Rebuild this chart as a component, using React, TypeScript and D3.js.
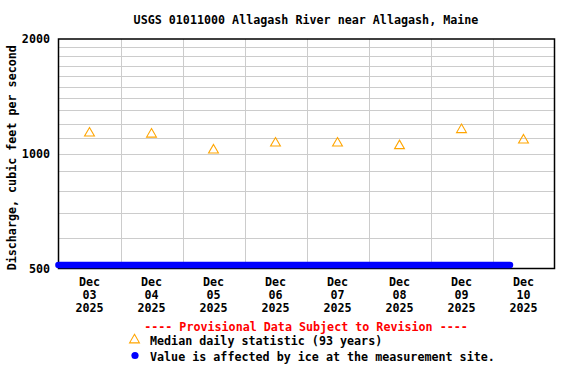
import React, { useEffect, useRef } from 'react';
import * as d3 from 'd3';

// values
const days = ['03', '04', '05', '06', '07', '08', '09', '10'];
const medianValues = [1132, 1125, 1022, 1066, 1066, 1049, 1156, 1086];
const yTickValues = [500, 1000, 2000];
const yGridValues = [600, 700, 800, 900, 1100, 1200, 1300, 1400, 1500, 1600, 1700, 1800, 1900];
const iceTimes = [Date.UTC(2025, 11, 3, 0, 0), Date.UTC(2025, 11, 10, 6, 45)];
const iceValues = [509, 509];

const title = 'USGS 01011000 Allagash River near Allagash, Maine';
const yTitle = 'Discharge, cubic feet per second';

const W = 576, H = 384;
const margin = { top: 39, right: 21.5, bottom: 115.5, left: 58.5 };
const FONT = '"DejaVu Sans Mono", monospace';
const FS = '11.7px';

const App = () => {
  const ref = useRef<SVGSVGElement | null>(null);

  useEffect(() => {
    const svg = d3.select(ref.current);
    svg.selectAll('*').remove();

    const x = d3.scaleUtc()
      .domain([Date.UTC(2025, 11, 3), Date.UTC(2025, 11, 11)])
      .range([margin.left, W - margin.right]);

    const y = d3.scaleLog()
      .domain([500, 2000])
      .range([H - margin.bottom, margin.top]);

    const noon = (i: number) => Date.UTC(2025, 11, 3 + i, 12);
    const midnights = d3.range(1, days.length).map(i => Date.UTC(2025, 11, 3 + i));

    // grid
    svg.append('g')
      .selectAll('line.h')
      .data(yGridValues.concat([1000]))
      .enter().append('line')
      .attr('x1', margin.left).attr('x2', W - margin.right)
      .attr('y1', d => Math.round(y(d)) + 0.5).attr('y2', d => Math.round(y(d)) + 0.5)
      .attr('stroke', '#cccccc');

    svg.append('g')
      .selectAll('line.v')
      .data(midnights)
      .enter().append('line')
      .attr('x1', d => Math.round(x(d)) + 0.5).attr('x2', d => Math.round(x(d)) + 0.5)
      .attr('y1', margin.top).attr('y2', H - margin.bottom)
      .attr('stroke', '#cccccc');

    // median triangles
    const tri = d3.symbol().type(d3.symbolTriangle).size(42);
    svg.append('g')
      .selectAll('path')
      .data(medianValues)
      .enter().append('path')
      .attr('d', tri)
      .attr('transform', (d, i) => `translate(${x(noon(i))},${y(d)})`)
      .attr('fill', 'none')
      .attr('stroke', '#ffa500')
      .attr('stroke-width', 1.1);

    // frame
    svg.append('rect')
      .attr('x', margin.left).attr('y', margin.top)
      .attr('width', W - margin.left - margin.right)
      .attr('height', H - margin.top - margin.bottom)
      .attr('fill', 'none')
      .attr('stroke', '#000')
      .attr('stroke-width', 1.5);

    // ice-affected values
    const line = d3.line<number>()
      .x((d, i) => x(iceTimes[i]))
      .y(d => y(d) - 0.5);
    svg.append('path')
      .datum(iceValues)
      .attr('d', line)
      .attr('stroke', '#0000ff')
      .attr('stroke-width', 6.6)
      .attr('stroke-linecap', 'round')
      .attr('fill', 'none');

    // y labels
    svg.append('g')
      .selectAll('text')
      .data(yTickValues)
      .enter().append('text')
      .attr('x', 50)
      .attr('y', d => y(d))
      .attr('dy', '0.36em')
      .attr('text-anchor', 'end')
      .style('font', `bold ${FS} ${FONT}`)
      .text(d => d);

    // x labels
    const xl = svg.append('g')
      .selectAll('text')
      .data(days)
      .enter().append('text')
      .attr('text-anchor', 'middle')
      .style('font', `bold ${FS} ${FONT}`);
    xl.append('tspan').attr('x', (d, i) => x(noon(i))).attr('y', 286).text('Dec');
    xl.append('tspan').attr('x', (d, i) => x(noon(i))).attr('y', 299).text(d => d);
    xl.append('tspan').attr('x', (d, i) => x(noon(i))).attr('y', 312).text('2025');

    // titles
    svg.append('text')
      .attr('x', 306).attr('y', 24)
      .attr('text-anchor', 'middle')
      .style('font', `bold ${FS} ${FONT}`)
      .text(title);

    svg.append('text')
      .attr('transform', `translate(15.5,${(margin.top + H - margin.bottom) / 2 + 4}) rotate(-90)`)
      .attr('text-anchor', 'middle')
      .style('font', `bold ${FS} ${FONT}`)
      .text(yTitle);

    // legend
    svg.append('text')
      .attr('x', 306).attr('y', 331)
      .attr('text-anchor', 'middle')
      .attr('fill', '#ff0000')
      .style('font', `bold ${FS} ${FONT}`)
      .text('---- Provisional Data Subject to Revision ----');

    svg.append('path')
      .attr('d', tri)
      .attr('transform', 'translate(134.5,340)')
      .attr('fill', 'none')
      .attr('stroke', '#ffa500')
      .attr('stroke-width', 1.1);
    svg.append('text')
      .attr('x', 150).attr('y', 345)
      .style('font', `bold ${FS} ${FONT}`)
      .text('Median daily statistic (93 years)');

    svg.append('circle')
      .attr('cx', 135).attr('cy', 355.5).attr('r', 3.6)
      .attr('fill', '#0000ff');
    svg.append('text')
      .attr('x', 150).attr('y', 361)
      .style('font', `bold ${FS} ${FONT}`)
      .text('Value is affected by ice at the measurement site.');
  }, []);

  return (
    <svg ref={ref} width={W} height={H}
      style={{ position: 'absolute', left: 0, top: 0, background: '#fff' }} />
  );
};

export default App;
